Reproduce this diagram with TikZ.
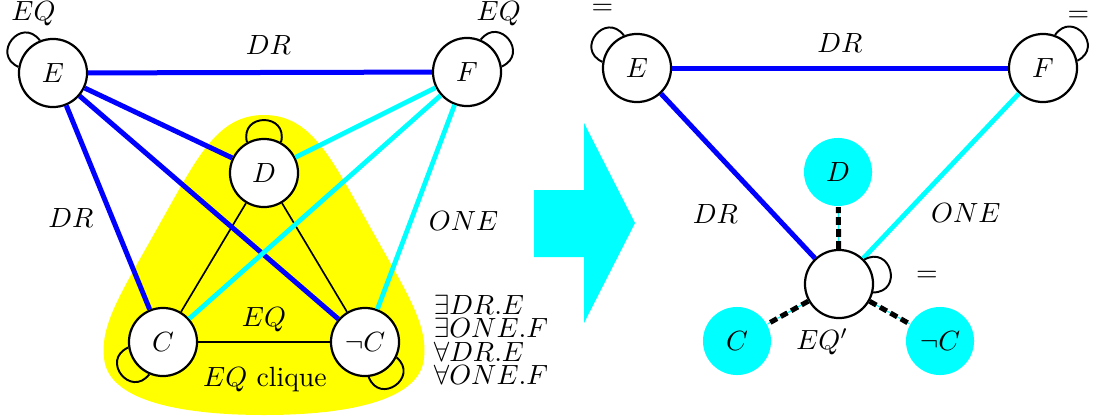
\documentclass[tikz,border=0pt]{standalone}
\usetikzlibrary{automata}
\definecolor{drblue}{RGB}{0,0,255}
\definecolor{onecyan}{RGB}{0,255,255}
\definecolor{cliqueyellow}{RGB}{255,255,0}

\begin{document}
\begin{tikzpicture}[x=0.36pt, y=0.36pt,
    every state/.style={thick, draw=black, fill=white, minimum size=24.5pt, inner sep=0pt},
    merged/.style={state, draw=none, fill=onecyan},
    dredge/.style={draw=drblue, line width=1.8pt},
    oneedge/.style={draw=onecyan, line width=1.7pt},
    eqedge/.style={draw=black, line width=0.6pt},
    selfloop/.style={draw=black, line width=0.7pt, distance=11pt},
    dashlink/.style={draw=black, line width=1.8pt, dash pattern=on 2.8pt off 1.5pt}]
    \useasboundingbox (0,0) rectangle (1093,418);

    % the EQ clique blob and the big arrow
    \fill[cliqueyellow] (264,303) .. controls (310,303) and (330,262) .. (365,200)
        .. controls (405,128) and (428,95) .. (424,60)
        .. controls (420,15) and (340,3) .. (264,3)
        .. controls (188,3) and (108,15) .. (104,60)
        .. controls (100,95) and (123,128) .. (163,200)
        .. controls (198,262) and (218,303) .. cycle;
    \fill[onecyan] (534,228) -- (584,228) -- (584,295) -- (635,195) -- (584,95) -- (584,161) -- (534,161) -- cycle;

    % before
    \node[state] (E) at (53,345) {\(E\)};
    \node[state] (F) at (467,346) {\(F\)};
    \node[state] (D) at (264,245) {\(D\)};
    \node[state] (C) at (163,76) {\(C\)};
    \node[state] (NC) at (365,76) {\(\neg C\)};
    \node (clq) at (265,38) {\(EQ\) clique};
    \node[anchor=west, align=left, font=\fontsize{10}{8.4}\selectfont] (rules) at (424,78) {
        \(\exists DR.E\)\\ \(\exists ONE.F\)\\ \(\forall DR.E\)\\ \(\forall ONE.F\)
    };

    \draw (C) edge[eqedge] (D);
    \draw (D) edge[eqedge] (NC);
    \draw (C) edge[eqedge] node[above]{\(EQ\)} (NC);

    \draw (E) edge[dredge] node[above=2.3pt, xshift=3pt]{\(DR\)} (F);
    \draw (E) edge[dredge] (D);
    \draw (E) edge[dredge] node[pos=0.55, left=2.5pt]{\(DR\)} (C);
    \draw (E) edge[dredge] (NC);

    \draw (F) edge[oneedge] (D);
    \draw (F) edge[oneedge] (C);
    \draw (F) edge[oneedge] node[pos=0.567, right=2.3pt]{\(ONE\)} (NC);

    \draw (E.170) edge[selfloop, out=155, in=127] node[xshift=7.8pt, yshift=9.3pt]{\(EQ\)} (E.112);
    \draw (F.67) edge[selfloop, out=52, in=24] node[xshift=-3.6pt, yshift=9.2pt]{\(EQ\)} (F.9);
    \draw (D.119) edge[selfloop, out=104, in=76] (D.61);
    \draw (C.247) edge[selfloop, out=232, in=204] (C.189);
    \draw (NC.-26) edge[selfloop, out=-41, in=-69] (NC.-84);

    % after
    \node[state] (E2) at (637,350) {\(E\)};
    \node[state] (F2) at (1043,350) {\(F\)};
    \node[state, label={[xshift=-6pt]below:{\(EQ'\)}}] (X) at (839,134) {};
    \node[merged] (D2) at (838,246) {\(D\)};
    \node[merged] (C2) at (737,77) {\(C\)};
    \node[merged] (NC2) at (940,77) {\(\neg C\)};

    \draw (E2) edge[dredge] node[above=1.5pt]{\(DR\)} (F2);
    \draw (E2) edge[dredge] node[pos=0.73, left=8.5pt]{\(DR\)} (X);
    \draw (F2) edge[oneedge] node[pos=0.727, right=5pt]{\(ONE\)} (X);

    \draw (X) edge[onecyan, thin] (D2) edge[dashlink] (D2);
    \draw (X) edge[onecyan, thin] (C2) edge[dashlink] (C2);
    \draw (X) edge[onecyan, thin] (NC2) edge[dashlink] (NC2);

    \draw (E2.170) edge[selfloop, out=155, in=127] node[xshift=2.4pt, yshift=9pt]{\(=\)} (E2.112);
    \draw (F2.70) edge[selfloop, out=55, in=27] node[xshift=-1.6pt, yshift=6pt]{\(=\)} (F2.12);
    \draw (X.44) edge[selfloop, out=29, in=1] node[xshift=13.2pt, yshift=-2.2pt]{\(=\)} (X.-14);
\end{tikzpicture}
\end{document}
